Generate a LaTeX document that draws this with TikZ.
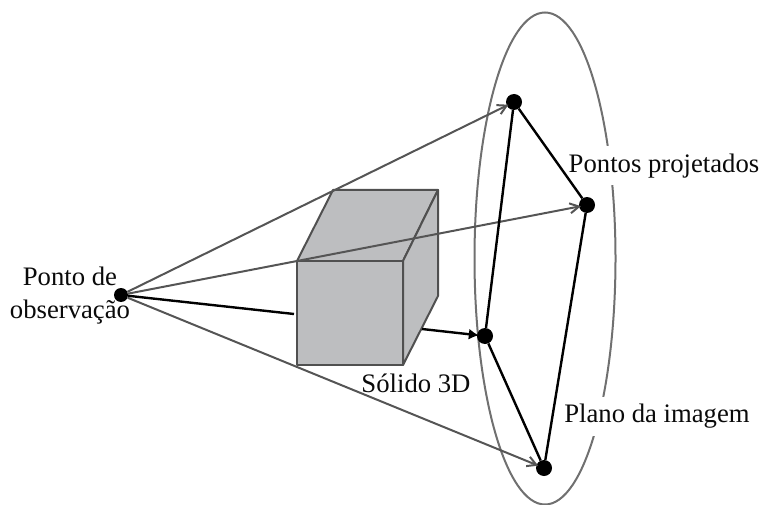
\documentclass[tikz,border=0pt]{standalone}
\usepackage{xcolor}
\usepackage{fontspec}
\setmainfont{Liberation Serif}
\usetikzlibrary{arrows.meta,positioning}
\definecolor{Ink}{HTML}{0A0A0A}
\definecolor{Ray}{HTML}{555555}
\definecolor{Rim}{HTML}{707070}
\definecolor{Edge}{HTML}{505050}
\definecolor{Solid}{HTML}{BDBEC0}
\tikzset{
  pt/.style={circle,fill=black,inner sep=0pt,minimum size=16pt},
  ray/.style={Ray,line width=2pt,-{Straight Barb[length=9pt,width=10pt]},shorten >=-2pt},
  edge3d/.style={black,line width=2.4pt},
  face/.style={fill=Solid,draw=Edge,line width=2pt,line join=round},
  lab/.style={font=\fontsize{26.7}{33}\selectfont,inner sep=0pt,text=Ink},
  gaplab/.style={lab,fill=white,minimum height=39pt,inner xsep=2pt}
}

\begin{document}
\begin{tikzpicture}[x=1pt,y=-1pt]
  \useasboundingbox (0,0) rectangle (765,505);
  % image plane
  \draw[Rim,line width=2pt] (545,258.5) ellipse [x radius=70.5,y radius=246];
  % solid
  \draw[face] (297,261) -- (333,190) -- (438,190) -- (403,261) -- cycle;
  \draw[face] (403,261) -- (438,190) -- (438,296) -- (403,365) -- cycle;
  \draw[face] (297,261) rectangle (403,365);
  % labels
  \node[gaplab] (pontos) at (664,166) {Pontos projetados};
  \node[gaplab] (plano) at (657,416) {Plano da imagem};
  \node[lab] (solido) at (416,383) {Sólido 3D};
  \node[lab,align=center] (observ) at (70,296) {Ponto de\\observação};
  % points
  \node[pt,minimum size=14pt] (obs) at (121,295) {};
  \node[pt] (top) at (514,102) {};
  \node[pt] (right) at (587,205) {};
  \node[pt] (mid) at (485,336) {};
  \node[pt] (bottom) at (544,468) {};
  \coordinate (hidA) at (294,314);
  \coordinate (hidB) at (422,329);
  % rays
  \draw[ray] (obs) -- (top);
  \draw[ray] (obs) -- (right);
  \draw[ray] (obs) -- (bottom);
  \draw[edge3d] (obs) -- (hidA);
  \draw[edge3d,-{Latex[length=10pt,width=11pt]},shorten >=-2pt] (hidB) -- (mid);
  % projected figure
  \draw[edge3d] (top) -- (right);
  \draw[edge3d] (right) -- (bottom);
  \draw[edge3d] (bottom) -- (mid);
  \draw[edge3d] (mid) -- (top);
\end{tikzpicture}
\end{document}
